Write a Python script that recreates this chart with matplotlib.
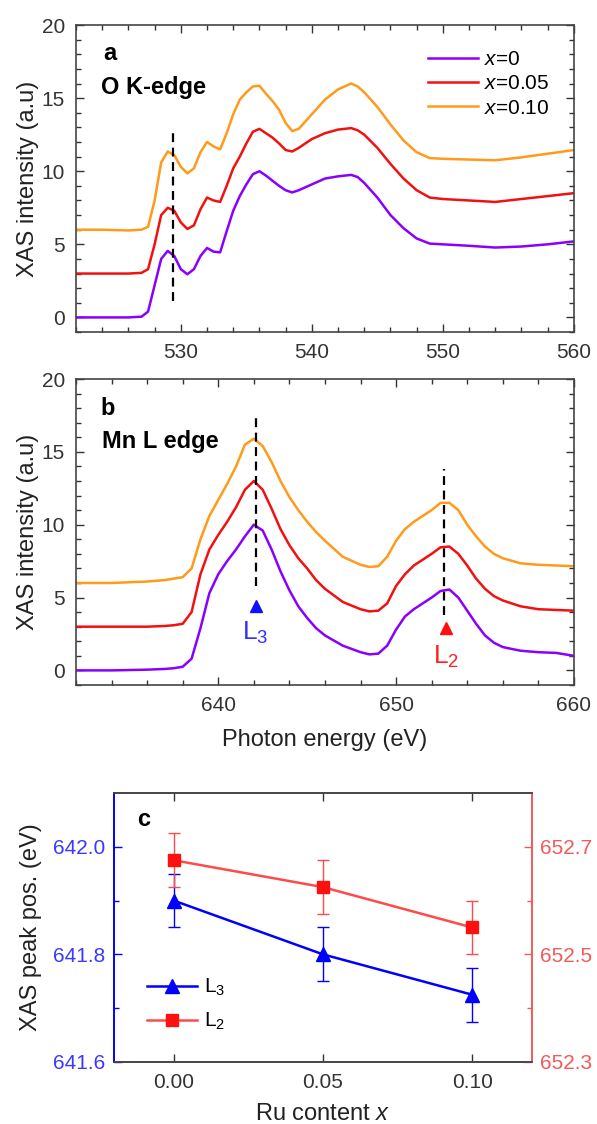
import matplotlib
matplotlib.use("Agg")
import matplotlib.pyplot as plt
from matplotlib.ticker import MultipleLocator, FixedLocator, FormatStrFormatter
from matplotlib.lines import Line2D

plt.rcParams['font.family'] = ['Liberation Sans', 'DejaVu Sans']
plt.rcParams['mathtext.fontset'] = 'custom'
plt.rcParams['mathtext.rm'] = 'Liberation Sans'
plt.rcParams['mathtext.it'] = 'Liberation Sans:italic'

# ---- panel a: O K-edge spectra ----
e_ok = [522, 524, 526, 527, 527.5, 528, 528.5, 529, 529.5, 530, 530.5, 531, 531.5,
        532, 532.5, 533, 533.5, 534, 534.5, 535, 535.5, 536, 536.5, 537, 537.5,
        538, 538.5, 539, 540, 541, 542, 543, 543.5, 544, 545, 546, 547, 548, 549,
        550, 552, 554, 556, 558, 560]
ok_x000 = [0.0, 0.0, 0.0, 0.05, 0.4, 2.2, 4.0, 4.55, 4.2, 3.3, 2.95, 3.3, 4.2,
           4.75, 4.5, 4.45, 5.9, 7.3, 8.3, 9.1, 9.8, 10.0, 9.7, 9.35, 9.0,
           8.7, 8.55, 8.7, 9.1, 9.5, 9.65, 9.75, 9.6, 9.2, 8.2, 7.0, 6.1, 5.4, 5.05,
           5.0, 4.9, 4.78, 4.85, 5.0, 5.2]
ok_x005 = [3.0, 3.0, 3.0, 3.05, 3.3, 5.0, 7.0, 7.5, 7.3, 6.5, 6.05, 6.3, 7.4,
           8.2, 8.0, 7.9, 9.0, 10.2, 11.0, 11.9, 12.7, 12.9, 12.6, 12.3, 11.9,
           11.45, 11.35, 11.6, 12.2, 12.6, 12.85, 12.95, 12.8, 12.5, 11.6, 10.5, 9.5, 8.7, 8.2,
           8.1, 8.0, 7.9, 8.1, 8.3, 8.5]
ok_x010 = [6.0, 6.0, 5.95, 6.0, 6.2, 8.0, 10.6, 11.35, 11.1, 10.3, 9.85, 10.2, 11.3,
           12.0, 11.7, 11.5, 12.6, 13.9, 14.9, 15.4, 15.8, 15.85, 15.3, 14.8, 14.2,
           13.3, 12.75, 12.9, 13.9, 14.9, 15.6, 16.0, 15.8, 15.4, 14.4, 13.2, 12.1, 11.3, 10.9,
           10.85, 10.8, 10.75, 10.95, 11.2, 11.45]

# ---- panel b: Mn L-edge spectra ----
e_mn = [632, 634, 636, 637, 637.5, 638, 638.5, 639, 639.5, 640, 640.5, 641, 641.5,
        642, 642.5, 643, 643.5, 644, 644.5, 645, 645.5, 646, 647, 648, 648.5, 649,
        649.5, 650, 650.5, 651, 651.5, 652, 652.5, 653, 653.5, 654, 654.5, 655,
        655.5, 656, 657, 658, 659, 660]
mn_x000 = [0.0, 0.0, 0.05, 0.1, 0.15, 0.25, 0.8, 2.9, 5.3, 6.6, 7.5, 8.3, 9.2,
           10.0, 9.6, 8.3, 6.8, 5.5, 4.4, 3.6, 2.9, 2.4, 1.7, 1.25, 1.1, 1.15,
           1.7, 2.8, 3.7, 4.2, 4.6, 5.0, 5.45, 5.55, 5.0, 4.1, 3.2, 2.4,
           1.9, 1.6, 1.35, 1.25, 1.2, 1.0]
mn_x005 = [3.0, 3.0, 3.0, 3.05, 3.1, 3.2, 4.0, 6.6, 8.3, 9.3, 10.2, 11.2, 12.4,
           13.0, 12.4, 11.1, 9.7, 8.6, 7.7, 7.0, 6.2, 5.6, 4.7, 4.2, 4.05, 4.1,
           4.6, 5.8, 6.6, 7.2, 7.6, 8.0, 8.45, 8.5, 8.0, 7.2, 6.3, 5.6,
           5.1, 4.8, 4.4, 4.2, 4.15, 4.1]
mn_x010 = [6.0, 6.0, 6.1, 6.2, 6.3, 6.4, 7.0, 9.0, 10.6, 11.7, 12.8, 14.0, 15.5,
           15.9, 15.4, 14.3, 13.0, 11.9, 11.0, 10.2, 9.5, 8.9, 7.8, 7.25, 7.1, 7.15,
           7.8, 8.9, 9.7, 10.2, 10.6, 11.0, 11.5, 11.5, 11.0, 10.0, 9.2, 8.5,
           8.0, 7.7, 7.35, 7.25, 7.2, 7.15]

labels = ['$x$=0', '$x$=0.05', '$x$=0.10']
colors = ['#8a00ff', '#f21010', '#ff9a1a']

# ---- panel c: peak positions ----
ru = [0.00, 0.05, 0.10]
l3_pos = [641.9, 641.8, 641.725]
l3_err = [0.05, 0.05, 0.05]
l2_pos = [652.675, 652.625, 652.55]
l2_err = [0.05, 0.05, 0.05]
l3_ticks = [641.6, 641.8, 642.0]
l2_ticks = [652.3, 652.5, 652.7]

FS = 15
LFS = 17
tick_c = '#333333'

fig = plt.figure(figsize=(5.97, 11.24), dpi=100)
ax_a = fig.add_axes([0.1273, 0.7046, 0.834, 0.2731])
ax_b = fig.add_axes([0.1273, 0.3906, 0.834, 0.2722])
ax_c = fig.add_axes([0.191, 0.0552, 0.700, 0.2393])


def style_spec(ax):
    ax.set_ylim(-1, 20)
    ax.yaxis.set_major_locator(MultipleLocator(5))
    ax.yaxis.set_minor_locator(MultipleLocator(1))
    ax.xaxis.set_major_locator(MultipleLocator(10))
    ax.xaxis.set_minor_locator(MultipleLocator(2))
    ax.tick_params(which='both', direction='in', top=True, right=True,
                   labelsize=FS, labelcolor=tick_c, color=tick_c, width=1)
    ax.tick_params(which='major', length=6, pad=8)
    ax.tick_params(which='minor', length=3.5)
    for s in ax.spines.values():
        s.set_color('#444444')
        s.set_linewidth(1.2)
    ax.set_ylabel('XAS intensity (a.u)', fontsize=LFS, color='#222222', labelpad=2)


# panel a
for y, c, lab in zip([ok_x000, ok_x005, ok_x010], colors, labels):
    ax_a.plot(e_ok, y, color=c, lw=1.8, label=lab)
ax_a.plot([529.4, 529.4], [1.1, 12.8], color='black', lw=1.6, ls=(0, (4, 2.5)))
ax_a.set_xlim(522, 560)
style_spec(ax_a)
ax_a.text(0.055, 0.908, 'a', transform=ax_a.transAxes, fontsize=LFS, fontweight='bold',
          va='center', ha='left')
ax_a.text(0.05, 0.795, 'O K-edge', transform=ax_a.transAxes, fontsize=LFS,
          fontweight='bold', va='center', ha='left')
ax_a.legend(loc='upper left', bbox_to_anchor=(0.69, 0.945), frameon=False,
            fontsize=FS, handlelength=2.4, handletextpad=0.3, labelspacing=0.25,
            borderaxespad=0)

# panel b
for y, c in zip([mn_x000, mn_x005, mn_x010], colors):
    ax_b.plot(e_mn, y, color=c, lw=1.8)
ax_b.plot([642.1, 642.1], [5.8, 17.7], color='black', lw=1.6, ls=(0, (4, 2.5)))
ax_b.plot([652.7, 652.7], [3.8, 13.8], color='black', lw=1.6, ls=(0, (4, 2.5)))
ax_b.plot([642.1], [4.45], marker='^', color='#1010ff', ms=9, ls='none')
ax_b.plot([652.8], [2.9], marker='^', color='#ff1010', ms=9, ls='none')
ax_b.text(642.1, 2.6, 'L$_3$', color='#3030ff', fontsize=19, ha='center', va='center')
ax_b.text(652.8, 0.9, 'L$_2$', color='#ff2020', fontsize=19, ha='center', va='center')
ax_b.set_xlim(632, 660)
style_spec(ax_b)
ax_b.set_xlabel('Photon energy (eV)', fontsize=LFS, color='#222222', labelpad=10)
ax_b.text(0.049, 0.905, 'b', transform=ax_b.transAxes, fontsize=LFS, fontweight='bold',
          va='center', ha='left')
ax_b.text(0.052, 0.796, 'Mn L edge', transform=ax_b.transAxes, fontsize=LFS,
          fontweight='bold', va='center', ha='left')

# panel c
blue = '#0000ff'
red_line = '#ff4a4a'
red_mk = '#ff1010'
ax_c2 = ax_c.twinx()
ax_c.errorbar(ru, l3_pos, yerr=l3_err, fmt='none', ecolor=blue, elinewidth=1,
              capsize=4, capthick=1)
ax_c.plot(ru, l3_pos, color=blue, lw=1.8, marker='^', ms=10, mfc=blue, mec=blue)
ax_c2.errorbar(ru, l2_pos, yerr=l2_err, fmt='none', ecolor=red_line, elinewidth=1,
               capsize=4, capthick=1)
ax_c2.plot(ru, l2_pos, color=red_line, lw=1.8, marker='s', ms=9, mfc=red_mk, mec=red_mk)

ax_c.set_xlim(-0.02, 0.12)
ax_c.set_ylim(641.6, 642.1)
ax_c2.set_ylim(652.3, 652.8)
ax_c.xaxis.set_major_locator(FixedLocator(ru))
ax_c.xaxis.set_major_formatter(FormatStrFormatter('%.2f'))
ax_c.yaxis.set_major_locator(FixedLocator(l3_ticks))
ax_c.yaxis.set_minor_locator(FixedLocator([641.7, 641.9]))
ax_c.yaxis.set_major_formatter(FormatStrFormatter('%.1f'))
ax_c2.yaxis.set_major_locator(FixedLocator(l2_ticks))
ax_c2.yaxis.set_minor_locator(FixedLocator([652.4, 652.6]))
ax_c2.yaxis.set_major_formatter(FormatStrFormatter('%.1f'))

ax_c.tick_params(axis='x', which='both', direction='in', top=True, labelsize=FS,
                 labelcolor=tick_c, color=tick_c, length=6, width=1, pad=8)
ax_c.tick_params(axis='y', which='both', direction='in', labelsize=FS,
                 labelcolor='#3a3aff', color=blue, width=1)
ax_c.tick_params(axis='y', which='major', length=6, pad=6)
ax_c.tick_params(axis='y', which='minor', length=3.5)
ax_c2.tick_params(axis='y', which='both', direction='in', labelsize=FS,
                  labelcolor='#f25a5a', color='#f25a5a', width=1)
ax_c2.tick_params(axis='y', which='major', length=6, pad=6)
ax_c2.tick_params(axis='y', which='minor', length=3.5)
for a in (ax_c, ax_c2):
    a.spines['top'].set_color('#444444')
    a.spines['bottom'].set_color('#444444')
    a.spines['left'].set_color(blue)
    a.spines['right'].set_color('#f25a5a')
    for s in a.spines.values():
        s.set_linewidth(1.2)

ax_c.set_ylabel('XAS peak pos. (eV)', fontsize=LFS, color='#222222', labelpad=8)
ax_c.set_xlabel('Ru content $x$', fontsize=LFS, color='#222222', labelpad=8)
ax_c.text(0.072, 0.9, 'c', transform=ax_c.transAxes, fontsize=LFS, fontweight='bold',
          va='center', ha='center')

handles = [Line2D([], [], color=blue, lw=1.8, marker='^', ms=10),
           Line2D([], [], color=red_line, lw=1.8, marker='s', ms=9, mfc=red_mk, mec=red_mk)]
ax_c2.legend(handles, ['L$_3$', 'L$_2$'], loc='lower left', bbox_to_anchor=(0.06, 0.08),
             frameon=False, fontsize=FS, handlelength=2.4, handletextpad=0.3,
             labelspacing=0.6, borderaxespad=0)

fig.savefig('out.png', dpi=100)
